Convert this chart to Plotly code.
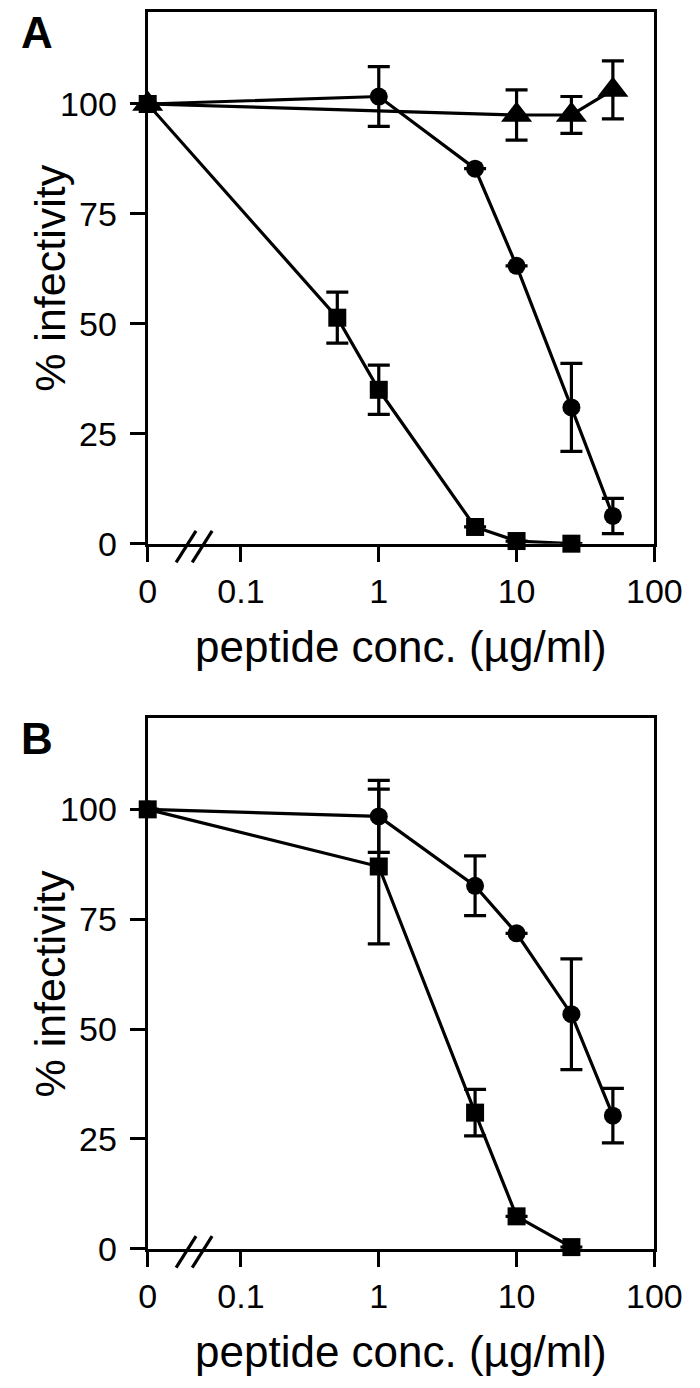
import math
import plotly.graph_objects as go

# ---------------- data ----------------
# Panel A
conc_A_sq = [0, 0.5, 1, 5, 10, 25]
inf_A_sq = [100, 51.4, 35.0, 3.8, 0.6, 0.0]
err_A_sq = [None, 5.8, 5.6, None, None, None]

conc_A_ci = [0, 1, 5, 10, 25, 50]
inf_A_ci = [100, 101.7, 85.3, 63.2, 31.0, 6.3]
err_A_ci = [None, 6.8, None, None, 10.0, 4.0]

conc_A_tri = [0, 10, 25, 50]
inf_A_tri = [100, 97.5, 97.5, 103.2]
err_A_tri = [None, 5.7, 4.2, 6.6]

# Panel B
conc_B_sq = [0, 1, 5, 10, 25]
inf_B_sq = [100, 87.0, 31.0, 7.4, 0.4]
err_B_sq = [None, 17.6, 5.3, None, None]

conc_B_ci = [0, 1, 5, 10, 25, 50]
inf_B_ci = [100, 98.4, 82.6, 71.8, 53.4, 30.3]
err_B_ci = [None, 8.2, 6.8, None, 12.6, 6.2]

tick_vals = [0, 0.1, 1, 10, 100]
tick_text = ["0", "0.1", "1", "10", "100"]
y_ticks = [0, 25, 50, 75, 100]

# ---------------- layout helpers ----------------
W, H = 700, 1388
X_LEFT, X_RIGHT = 138, 673
ZERO_LOG = -1.677          # where the "0" concentration sits on the broken log axis
ZERO_POS = 10 ** ZERO_LOG
LOG_MAX = 2.0005


def xpos(vals):
    return [ZERO_POS if v == 0 else v for v in vals]


FONT = "Liberation Sans, Arial, Helvetica, sans-serif"
panels = {
    "A": dict(top=2.7, bottom=542.5, ymax=121.0),
    "B": dict(top=719.3, bottom=1258.0, ymax=120.8),
}

fig = go.Figure()


def add_series(xs, ys, errs, symbol, size, xa, ya):
    fig.add_trace(go.Scatter(
        x=xpos(xs), y=ys, mode="lines+markers",
        line=dict(color="black", width=3.2),
        marker=dict(symbol=symbol, size=size, color="black"),
        error_y=dict(type="data", array=errs, visible=True,
                     color="black", thickness=3.2, width=11),
        cliponaxis=False, showlegend=False,
        xaxis=xa, yaxis=ya,
    ))


add_series(conc_A_tri, inf_A_tri, err_A_tri, "triangle-up", 27, "x", "y")
add_series(conc_A_ci, inf_A_ci, err_A_ci, "circle", 18, "x", "y")
add_series(conc_A_sq, inf_A_sq, err_A_sq, "square", 18, "x", "y")

add_series(conc_B_ci, inf_B_ci, err_B_ci, "circle", 18, "x2", "y2")
add_series(conc_B_sq, inf_B_sq, err_B_sq, "square", 18, "x2", "y2")

xdomain = [X_LEFT / W, X_RIGHT / W]
tickvals_pos = xpos(tick_vals)

axis_common = dict(
    showline=True, linecolor="black", linewidth=3.2, mirror=True,
    ticks="outside", ticklen=15, tickwidth=3.2, tickcolor="black",
    showgrid=False, zeroline=False, ticklabeloverflow="allow",
    tickfont=dict(family=FONT, size=34, color="black"),
)

layout_axes = {}
for i, (name, p) in enumerate(panels.items()):
    sfx = "" if i == 0 else str(i + 1)
    layout_axes["xaxis" + sfx] = dict(
        axis_common, type="log", domain=xdomain,
        range=[ZERO_LOG, LOG_MAX], tickvals=tickvals_pos, ticktext=tick_text,
        anchor="y" + sfx, ticklabelstandoff=0,
    )
    layout_axes["yaxis" + sfx] = dict(
        axis_common, range=[0, p["ymax"]],
        domain=[(H - p["bottom"]) / H, (H - p["top"]) / H],
        tickvals=y_ticks, anchor="x" + sfx, ticklabelstandoff=6,
    )

fig.update_layout(
    width=W, height=H, margin=dict(l=0, r=0, t=0, b=0),
    paper_bgcolor="white", plot_bgcolor="white",
    font=dict(family=FONT, color="black"),
    **layout_axes,
)

shapes = []
annotations = []
for name, p in panels.items():
    yb = p["bottom"]
    # axis break "//"
    for x_bot, x_top in [(168, 189), (185, 206)]:
        shapes.append(dict(
            type="line", xref="paper", yref="paper",
            x0=x_bot / W, y0=(H - (yb + 19)) / H,
            x1=x_top / W, y1=(H - (yb - 13)) / H,
            line=dict(color="black", width=3.2),
        ))
    # panel letter
    annotations.append(dict(
        text="<b>%s</b>" % name, xref="paper", yref="paper",
        x=2 / W, y=(H - (p["top"] + 21)) / H, xanchor="left", yanchor="middle",
        showarrow=False, font=dict(family=FONT, size=44, color="black"),
    ))
    # x-axis title
    annotations.append(dict(
        text="peptide conc. (µg/ml)", xref="paper", yref="paper",
        x=(X_LEFT + X_RIGHT) / 2 / W, y=(H - (yb + 104)) / H,
        xanchor="center", yanchor="middle", showarrow=False,
        font=dict(family=FONT, size=44, color="black"),
    ))
    # y-axis title
    annotations.append(dict(
        text="% infectivity", xref="paper", yref="paper",
        x=35 / W, y=(H - (p["top"] + p["bottom"]) / 2) / H,
        xanchor="center", yanchor="middle", textangle=-90, showarrow=False,
        font=dict(family=FONT, size=43, color="black"),
    ))

fig.update_layout(shapes=shapes, annotations=annotations)
fig.write_html("out.html")
